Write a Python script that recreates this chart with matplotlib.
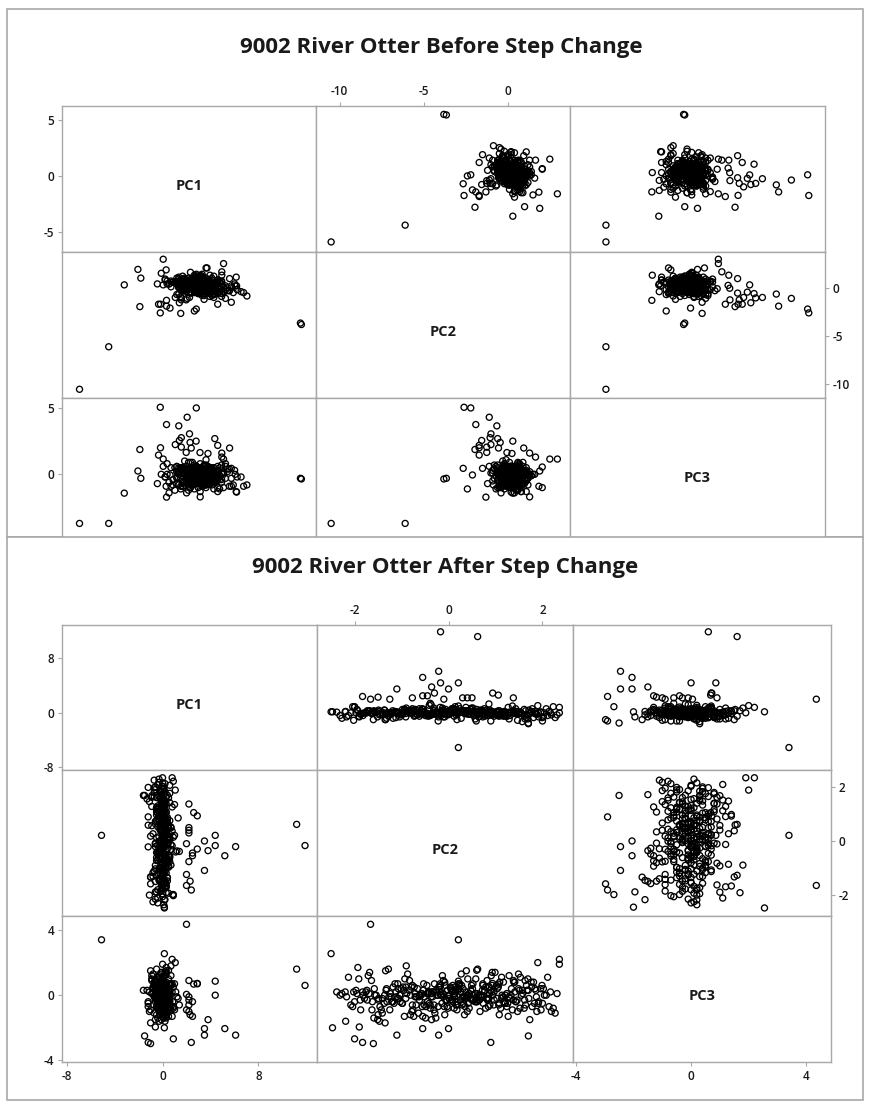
import matplotlib
matplotlib.use("Agg")
import matplotlib.pyplot as plt
from matplotlib.patches import Rectangle

plt.rcParams["font.family"] = ["Open Sans", "DejaVu Sans"]
plt.rcParams["axes.unicode_minus"] = False

# ---------------------------------------------------------------- data
var_names = ["PC1", "PC2", "PC3"]

before_title = "9002 River Otter Before Step Change"
after_title = "9002 River Otter After Step Change"

# scores before the step change: spread-out observations first, then the bulk
before_pc1 = [
    -5.9, -4.4, 5.5, 5.45, 0.1, -1.75, -0.37, -1.43, -0.8, -0.25,
    -0.67, 1.05, -0.77, 0.09, -0.22, -0.98, 1.2, -0.67, -0.16, 1.81,
    -1.74, -2.8, 0.29, 1.41, -0.42, 0.7, -1.84, 1.41, -1.6, 1.5,
    -3.6, -2.9, -2.75, 2.7, 2.15, -0.7, 0.0, 2.07, 2.17, 2.53,
    -1.43, 0.6, -1.45, 1.9, -1.25, 0.65, 0.3,
    0.3, -0.5, 1.1, 0.0, -1.2, 0.8, 0.4, -0.3, 1.6, 0.2,
    -0.8, 0.6, -0.1, 1.3, 0.9, -1.5, 0.1, 0.5, -0.6, 2.0,
    0.7, -0.2, 1.0, -0.9, 0.3, 1.8, -0.4, 0.0, 0.6, -1.1,
    1.4, 0.2, -0.7, 0.9, 0.4, -0.1, 1.2, -1.4, 0.5, 0.8,
    -0.3, 1.7, 0.1, -0.5, 0.7, 1.0, -1.0, 0.3, 2.2, -0.2,
    0.6, -0.8, 1.5, 0.0, 0.4, -1.3, 0.9, 0.2, -0.6, 1.1,
    -0.1, 0.5, 1.9, -0.4, 0.8, -1.7, 0.3, 1.3, -0.2, 0.7,
    0.1, -0.9, 1.6, 0.4, -0.5, 1.0, 0.6, -1.2, 0.2, 2.4,
    -0.3, 0.9, 0.0, 1.4, -0.7, 0.5, 1.2, -1.6, 0.3, 0.8,
    -0.1, 1.7, 0.4, -0.8, 0.6, 1.1, -0.4, 0.2, -1.9, 0.9,
    1.5, 0.0, -0.6, 0.7, 1.3, -1.1, 0.5, 0.1, 2.1, -0.3,
    0.8, -0.5, 1.0, 0.3, -1.4, 0.6, 1.8, -0.2, 0.4, -0.9,
    1.2, 0.1, -0.7, 0.9, 0.5, -1.0, 1.6, 0.2, -0.4, 0.7,
    0.0, 1.4, -1.3, 0.6, 0.3, -0.6, 1.1, 0.8, -0.1, 1.9,
    -0.8, 0.4, 1.0, -0.3, 0.2, 1.5, -1.5, 0.7, 0.5, -0.2,
    0.2, -0.3, 0.7, 0.0, 0.5, -0.6, 0.3, 1.0, -0.1, 0.4,
    -0.4, 0.8, 0.1, -0.2, 0.6, 0.3, -0.8, 0.9, 0.0, 0.5,
    0.2, -0.5, 1.2, 0.4, -0.1, 0.7, -0.3, 0.1, 0.9, -0.7,
    0.6, 0.0, 0.3, -0.4, 1.1, 0.2, -0.2, 0.8, 0.5, -0.9,
    0.1, 0.4, -0.6, 0.7, 0.3, 1.3, -0.1, 0.0, 0.6, -0.3,
    0.9, 0.2, -0.5, 0.4, 0.1, 0.8, -0.2, 1.0, 0.3, -0.8,
    0.5, -0.1, 0.7, 0.0, -0.4, 0.6, 1.2, 0.2, -0.6, 0.4,
    0.1, 0.9, -0.3, 0.5, 0.3, -0.1, 0.8, -0.7, 0.2, 1.1,
    0.0, 0.6, -0.2, 0.4, -0.5, 0.7, 0.1, 1.4, -0.4, 0.3,
    0.5, -0.9, 0.2, 0.8, 0.0, -0.1, 0.6, 0.3, -0.3, 1.0,
    0.4, -0.6, 0.1, 0.7, 0.2, -0.2, 0.9, 0.5, -0.7, 0.0,
    0.3, 1.2, -0.4, 0.6, 0.1, -0.1, 0.8, 0.2, 0.4, -0.5,
    0.7, -0.3, 0.0, 1.0, 0.5, -0.8, 0.3, 0.1, 0.6, -0.2,
    0.9, 0.2, -0.6, 0.4, -0.1, 1.3, 0.0, 0.7, -0.4, 0.3,
    0.5, 0.1, -0.3, 0.8, 0.2, -0.7, 0.6, 0.0, 1.1, -0.2,
    0.4, -0.5, 0.3, 0.7, -0.1, 0.9, 0.1, -0.9, 0.5, 0.2,
    0.0, 0.6, -0.4, 0.3, 1.0, -0.2, 0.8, 0.1, -0.6, 0.4,
    0.7, -0.1, 0.2, -0.3, 0.5, 1.2, 0.0, 0.3, -0.8, 0.6,
    0.1, 0.9, -0.5, 0.4, 0.2, -0.2, 0.7, 0.0, 1.4, -0.4,
    0.3, 0.5, -0.7, 0.8, 0.1, -0.1, 0.6, 0.2, -0.3, 1.0,
]
before_pc2 = [
    -10.5, -6.1, -3.8, -3.65, -2.2, -2.6, -1.1, -1.9, -0.65, -1.0,
    -1.05, -0.6, -1.55, 0.3, -0.45, -1.0, -1.7, -1.25, -0.55, 0.95,
    -1.7, -1.95, -0.05, 1.3, -1.25, 0.25, -1.7, 1.65, 2.95, 2.5,
    0.3, 1.9, 1.0, -0.85, 1.1, -2.65, -2.4, 0.4, 0.2, -0.5,
    -1.3, 2.05, 1.85, -1.5, -2.1, 2.05, 1.3,
    0.2, 0.5, -0.3, 0.8, 0.1, -0.6, 0.4, 1.0, -0.2, 0.3,
    0.7, -0.4, 0.0, 0.6, -0.8, 0.9, 0.2, -0.1, 1.2, -0.5,
    0.4, 0.1, -0.7, 0.5, 0.8, -0.3, 0.0, 1.3, -0.2, 0.6,
    -0.9, 0.3, 0.7, -0.1, 1.1, 0.2, -0.6, 0.4, 0.9, -0.4,
    0.5, 0.0, 1.4, -0.3, 0.2, -1.0, 0.6, 0.8, -0.2, 0.3,
    1.0, 0.1, -0.5, 0.7, -0.8, 0.4, 0.2, 1.2, -0.1, 0.5,
    0.9, -0.6, 0.0, 0.3, -0.3, 1.5, 0.6, -0.4, 0.1, 0.8,
    -0.2, 0.5, -1.1, 0.2, 1.0, -0.7, 0.3, 0.7, 0.0, -0.4,
    0.6, -0.2, 1.1, 0.4, -0.9, 0.1, 0.8, 0.3, -0.5, 1.3,
    0.2, -0.3, 0.5, 0.9, -0.1, 0.0, 0.7, -0.6, 0.4, 1.0,
    -0.4, 0.3, 0.8, -0.2, 0.1, 0.6, -0.8, 1.2, 0.2, 0.5,
    -0.1, 0.9, 0.0, -0.5, 0.7, 0.3, -0.3, 0.4, 1.4, -0.7,
    0.6, 0.1, -0.2, 0.8, -1.2, 0.5, 0.2, 1.0, -0.4, 0.3,
    0.7, -0.6, 0.4, 0.0, 1.1, -0.1, 0.5, -0.9, 0.9, 0.2,
    0.3, 1.2, -0.3, 0.6, -0.5, 0.1, 0.8, -0.2, 0.4, 1.6,
    0.3, 0.0, 0.5, -0.2, 0.7, 0.1, -0.4, 0.4, 0.2, 0.8,
    -0.1, 0.3, 0.6, -0.5, 0.2, 0.9, 0.0, -0.3, 0.5, 0.1,
    0.7, -0.2, 0.4, 0.2, 1.0, -0.4, 0.3, 0.6, -0.1, 0.2,
    0.5, 0.8, -0.3, 0.1, 0.4, -0.6, 0.7, 0.0, 0.3, 0.5,
    -0.2, 0.2, 0.9, 0.4, -0.1, 0.6, 0.1, -0.5, 0.3, 0.8,
    0.0, 0.4, 0.2, -0.3, 0.7, 0.5, -0.1, 0.3, 1.1, 0.1,
    -0.4, 0.6, 0.2, 0.4, -0.2, 0.0, 0.8, 0.3, 0.5, -0.6,
    0.2, 0.1, 0.7, -0.3, 0.4, 0.9, 0.0, 0.6, -0.1, 0.3,
    0.5, -0.2, 0.2, 0.8, 0.1, -0.5, 0.4, 0.7, 0.0, 0.3,
    -0.1, 0.6, 1.0, 0.2, -0.4, 0.5, 0.3, 0.1, 0.7, -0.2,
    0.4, 0.0, 0.6, -0.3, 0.2, 0.8, 0.5, -0.1, 0.3, 0.9,
    0.1, -0.5, 0.4, 0.7, 0.2, 0.0, -0.2, 0.6, 0.3, 0.5,
    0.8, 0.1, -0.4, 0.4, 0.2, 1.1, -0.1, 0.3, 0.6, 0.0,
    -0.3, 0.5, 0.2, 0.7, 0.4, -0.2, 0.9, 0.1, 0.3, -0.6,
    0.6, 0.2, 0.0, 0.5, -0.1, 0.8, 0.3, 0.4, -0.4, 0.7,
    0.1, 0.3, 0.6, -0.2, 0.2, 0.5, 0.0, 1.0, -0.3, 0.4,
    0.7, -0.1, 0.2, 0.9, 0.3, -0.5, 0.5, 0.1, 0.6, 0.0,
    0.4, 0.8, -0.2, 0.3, 0.2, 0.6, -0.4, 0.5, 0.1, 0.7,
    -0.1, 0.4, 0.3, 0.0, 0.8, 0.2, 0.5, -0.3, 0.6, 0.1,
    0.9, -0.2, 0.4, 0.2, 0.0, 0.7, 0.3, -0.1, 0.5, 1.2,
]
before_pc3 = [
    -3.7, -3.7, -0.35, -0.3, 5.0, 5.05, 4.3, 3.75, 3.65, 3.05,
    2.76, 2.69, 2.55, 2.5, 2.4, 2.24, 2.18, 2.05, 1.98, 1.98,
    2.0, 1.87, 1.64, 1.6, 1.65, 1.57, 1.45, 1.3, 1.15, 1.15,
    -1.42, 0.25, -0.3, -0.8, -1.3, 0.45, -1.1, 0.3, -1.34, -0.9,
    -1.72, -1.0, -0.9, 0.45, -0.05, 0.55, -1.7,
    -0.2, 0.3, -0.6, 0.1, -0.9, 0.5, -0.1, -0.4, 0.8, -0.3,
    0.2, -0.7, 0.0, -1.1, 0.4, -0.2, 0.6, -0.5, 0.1, -0.8,
    -0.3, 0.9, -0.1, 0.2, -1.3, 0.4, -0.6, 0.0, 0.7, -0.4,
    0.1, -0.2, -0.9, 0.5, -0.5, 0.3, -1.0, 0.0, 0.6, -0.3,
    -0.7, 0.2, -0.1, 1.0, -0.4, 0.1, -1.2, 0.4, -0.2, -0.6,
    0.3, -0.8, 0.0, 0.7, -0.3, -1.4, 0.2, -0.1, 0.5, -0.5,
    -0.2, 0.1, -0.9, 0.4, -0.6, 0.0, 0.8, -0.4, -1.0, 0.3,
    -0.1, -0.7, 0.6, -0.3, 0.2, -1.1, 0.0, 0.5, -0.5, -0.2,
    0.9, -0.8, 0.1, -0.4, 0.3, -0.1, -1.3, 0.6, -0.6, 0.2,
    -0.3, 0.4, -0.9, 0.0, 1.1, -0.5, -0.2, 0.3, -0.7, 0.1,
    -1.0, 0.5, -0.4, 0.2, -0.1, -0.8, 0.7, -0.3, 0.0, -1.2,
    0.4, -0.6, 0.1, -0.2, 0.8, -0.5, -0.9, 0.3, -0.1, 0.6,
    -0.4, 0.0, -1.1, 0.2, -0.7, 0.5, -0.3, 0.1, -1.4, 0.4,
    -0.2, 0.7, -0.6, -0.1, 0.3, -0.9, 0.0, -0.5, 0.9, -0.3,
    0.2, -0.8, 0.5, -0.4, -1.0, 0.1, -0.2, 0.6, -0.7, 0.0,
    -0.1, 0.2, -0.4, 0.0, -0.6, 0.3, -0.2, 0.1, -0.8, -0.3,
    0.4, -0.1, -0.5, 0.2, 0.0, -0.7, 0.1, -0.3, 0.5, -0.2,
    -0.4, 0.0, 0.3, -0.6, -0.1, 0.2, -0.9, 0.1, -0.3, 0.4,
    -0.2, -0.5, 0.0, 0.6, -0.1, -0.4, 0.2, -0.7, 0.1, -0.2,
    0.3, -0.6, -0.1, 0.0, -0.3, 0.5, -0.8, 0.2, -0.2, 0.1,
    -0.5, 0.0, 0.4, -0.3, -0.1, 0.2, -0.6, 0.1, -0.4, 0.3,
    0.0, -0.2, -0.7, 0.5, -0.1, 0.2, -0.3, 0.0, -0.9, 0.1,
    -0.4, 0.3, -0.2, 0.6, -0.5, 0.0, 0.1, -0.3, 0.2, -0.6,
    -0.1, 0.4, -0.2, -0.8, 0.0, 0.3, -0.4, 0.1, -0.1, 0.5,
    -0.3, 0.2, -0.7, 0.0, -0.2, 0.4, -0.5, 0.1, -0.1, -0.4,
    0.2, -0.6, 0.3, -0.2, 0.0, -1.0, 0.1, -0.3, 0.4, -0.1,
    -0.5, 0.2, 0.0, -0.4, 0.6, -0.2, -0.7, 0.1, -0.3, 0.3,
    0.0, -0.1, -0.6, 0.2, -0.4, 0.5, -0.2, 0.1, -0.8, 0.0,
    0.3, -0.3, 0.1, -0.5, 0.4, -0.1, -0.2, 0.2, -0.7, 0.0,
    -0.4, 0.6, -0.1, 0.1, -0.3, 0.3, -0.6, 0.0, 0.2, -0.2,
    -0.9, 0.4, -0.1, 0.1, -0.5, 0.0, 0.3, -0.3, -0.2, 0.5,
    0.1, -0.4, 0.2, -0.7, 0.0, -0.1, 0.4, -0.5, 0.1, -0.2,
    0.3, -0.3, 0.0, -0.6, 0.2, 0.6, -0.1, -0.4, 0.1, -0.8,
    -0.2, 0.0, 0.3, -0.5, -0.1, 0.2, -0.3, 0.4, -0.6, 0.1,
    0.0, -0.2, 0.5, -0.4, 0.1, -0.7, 0.2, -0.1, 0.3, -0.3,
]

# scores after the step change
after_pc1 = [
    11.9, 11.2, -5.1, 6.1, 5.2, 4.4, 4.4, 3.8, 3.5, 3.5,
    2.9, 2.9, 2.6, 2.4, 2.0, 2.3, 2.0, 2.2, 2.5, 2.5,
    2.0, 2.2, 2.2, 2.2, 2.2, 0.15, 0.9, -1.0, -1.2, -1.5,
    -0.6, -1.0, 0.15, 0.8, 1.06, 0.0, 0.7, 0.5, -1.2, -1.6,
    0.15, 0.85,
    -0.1, 0.3, -0.5, 0.0, 0.6, -0.8, 0.2, -0.3, 0.9, -0.2,
    0.1, -0.6, 0.4, -0.1, -1.0, 0.5, 0.0, -0.4, 0.7, -0.2,
    0.2, -0.7, 0.1, 0.3, -0.5, 1.1, -0.3, 0.0, -0.9, 0.4,
    -0.1, 0.6, -0.4, 0.2, -0.2, 0.8, -0.6, 0.1, -1.2, 0.3,
    0.0, -0.3, 0.5, -0.1, 0.2, -0.8, 0.4, -0.5, 1.0, 0.0,
    -0.2, 0.3, -0.7, 0.1, 0.6, -0.4, -0.1, 0.2, -0.9, 0.5,
    0.1, -0.3, 0.7, -0.6, 0.0, 0.3, -0.2, 1.2, -0.5, 0.2,
    -0.1, 0.4, -1.1, 0.0, 0.6, -0.3, 0.1, -0.7, 0.3, -0.2,
    0.8, -0.4, 0.0, 0.2, -0.6, 0.5, -0.1, -0.9, 0.3, 0.1,
    -0.5, 0.7, -0.2, 0.0, 0.4, -1.3, 0.2, -0.3, 0.9, -0.1,
    0.1, -0.6, 0.3, 0.5, -0.4, 0.0, -0.8, 0.6, -0.2, 0.2,
    1.3, -0.5, 0.1, -0.1, 0.4, -0.7, 0.0, 0.3, -1.0, 0.2,
    -0.3, 0.6, -0.1, 0.8, -0.4, 0.1, -0.6, 0.0, 0.5, -0.2,
    0.2, -0.9, 0.4, -0.3, 0.1, 1.0, -0.5, 0.0, -0.1, 0.7,
    -0.7, 0.3, -0.2, 0.5, 0.0, -1.1, 0.2, -0.4, 0.6, 0.1,
    -0.3, 0.9, 0.0, -0.6, 0.3, -0.1, 0.4, -0.8, 0.2, 1.4,
    -0.2, 0.1, -0.5, 0.6, 0.0, -0.3, 0.3, -1.2, 0.1, 0.5,
    -0.1, 0.2, -0.3, 0.0, 0.4, -0.2, 0.1, -0.5, 0.3, -0.1,
    0.0, 0.2, -0.4, 0.1, -0.2, 0.5, -0.1, 0.0, -0.6, 0.3,
    0.1, -0.3, 0.2, -0.1, 0.0, 0.4, -0.2, 0.1, -0.4, 0.2,
    -0.1, 0.0, 0.3, -0.5, 0.1, -0.2, 0.6, 0.0, -0.1, 0.2,
    -0.3, 0.1, 0.0, 0.4, -0.2, -0.1, 0.3, -0.4, 0.1, 0.0,
    0.2, -0.6, 0.1, -0.1, 0.5, 0.0, -0.3, 0.2, -0.2, 0.1,
    0.0, 0.3, -0.1, -0.4, 0.2, 0.0, -0.2, 0.4, 0.1, -0.5,
    -0.1, 0.2, 0.0, 0.3, -0.3, 0.1, -0.1, 0.6, -0.2, 0.0,
    0.1, -0.4, 0.2, -0.1, 0.0, 0.3, -0.2, 0.1, -0.5, 0.2,
    0.0, -0.1, 0.4, -0.3, 0.1, 0.0, -0.2, 0.2, 0.5, -0.1,
    -0.3, 0.1, 0.0, -0.6, 0.3, -0.1, 0.2, 0.0, -0.2, 0.4,
    0.1, -0.4, 0.0, 0.2, -0.1, 0.3, -0.3, 0.1, 0.0, -0.2,
    0.5, -0.1, 0.2, -0.5, 0.0, 0.1, -0.2, 0.3, -0.1, 0.0,
    -0.4, 0.2, 0.1, -0.1, 0.4, -0.3, 0.0, 0.2, -0.6, 0.1,
    0.0, -0.2, 0.3, 0.1, -0.4, 0.0, 0.2, -0.1, 0.6, -0.3,
]
after_pc2 = [
    -0.17, 0.62, 0.21, -0.21, -0.55, -0.17, 0.21, -0.36, -1.1, 0.0,
    -0.3, 0.94, 1.06, -1.83, -1.66, -1.5, -1.25, -0.77, -0.55, -0.45,
    -0.1, 0.3, 0.4, 0.5, 1.38, -2.47, -2.0, -1.6, 0.9, 1.7,
    -1.9, -1.35, -2.5, 2.36, 1.9, 2.36, -0.9, 0.6, 2.0, 1.7,
    -2.2, -2.0,
    -1.83, 0.42, 1.17, -0.64, 2.08, -1.32, 0.03, 0.91, -2.04, 1.58,
    -0.27, 0.73, -1.49, 1.86, 0.18, -0.93, 1.44, -2.31, 0.52, -0.08,
    1.77, -1.12, 0.29, -1.68, 0.97, -0.41, 2.19, -0.83, 0.57, -1.37,
    1.51, 0.12, -2.13, 0.84, -0.46, 1.27, -1.04, 1.96, -0.22, 0.38,
    -1.62, 1.09, -0.71, 1.73, -0.02, -1.18, 0.88, -1.91, 1.36, -0.33,
    0.63, -0.87, 2.27, -1.54, 0.24, 1.21, -0.58, -2.19, 1.63, 0.47,
    -1.07, 0.79, -0.13, 1.92, -1.76, 0.34, 1.02, -0.37, -1.28, 2.14,
    0.68, -0.79, 1.47, -1.97, 0.07, 1.13, -0.52, 1.81, -1.59, 0.44,
    -0.18, 1.31, -1.43, 0.93, 2.02, -0.98, 0.01, 1.69, -0.74, -2.38,
    1.24, 0.49, -1.22, 0.82, -0.29, 1.57, -1.71, 0.16, 2.23, -0.91,
    0.61, -1.51, 1.39, -0.06, 1.04, -2.08, 0.27, -0.62, 1.88, -1.14,
    0.86, -0.43, 1.53, -1.87, 0.09, 1.99, -0.81, 0.72, -1.34, 1.19,
    -0.24, 1.78, -1.64, 0.37, -0.49, 1.06, -2.17, 0.58, 1.61, -1.01,
    -0.04, 1.29, -0.69, 2.31, -1.41, 0.21, 0.77, -1.79, 0.99, -0.31,
    1.66, -1.19, 0.53, -0.94, 1.41, -2.02, 0.32, 2.11, -0.56, 0.89,
    -1.47, 0.14, 1.16, -0.11, -1.73, 1.49, 0.67, -2.27, 1.84, -0.39,
    0.41, -1.09, 1.08, -0.77, 2.17, -0.01, -1.93, 0.59, 1.33, -0.53,
    0.37, -0.84, 1.26, -0.12, 0.71, -1.46, 0.05, 1.62, -0.58, 0.93,
    -1.21, 0.26, -0.39, 1.14, -0.97, 0.48, 1.83, -0.27, 0.64, -1.69,
    0.19, -0.66, 1.38, 0.02, -1.08, 0.81, -0.45, 1.97, -0.16, 0.56,
    -1.33, 0.33, 1.07, -0.73, 0.11, -1.88, 0.76, -0.09, 1.49, -0.52,
    0.94, -1.16, 0.23, 1.71, -0.36, 0.44, -0.95, 1.18, -1.57, 0.08,
    0.66, -0.21, 1.29, -0.78, 0.15, 2.04, -1.03, 0.51, -0.31, 0.87,
    -1.74, 0.29, 1.55, -0.48, 0.04, -1.27, 0.97, -0.14, 1.76, -0.62,
    0.38, -0.89, 1.11, 0.21, -1.41, 0.69, -0.07, 1.43, -0.57, 0.16,
    -1.12, 0.83, 0.31, -0.34, 1.91, -0.81, 0.47, -1.63, 0.12, 1.03,
    -0.19, 0.59, -1.36, 0.92, -0.03, 1.34, -0.68, 0.25, -1.95, 0.73,
    -0.41, 1.21, 0.06, -0.91, 1.64, -0.26, 0.42, -1.19, 0.87, -0.11,
    1.52, -0.71, 0.17, -1.49, 0.64, 1.08, -0.37, 0.28, -1.06, 1.87,
    -0.54, 0.35, -0.15, 1.24, -1.31, 0.79, 0.01, -0.76, 1.41, -0.23,
    0.53, -1.58, 0.96, -0.44, 0.13, 1.67, -0.99, 0.39, -0.08, 1.13,
    -1.24, 0.61, -0.32, 0.85, -1.82, 0.22, 1.46, -0.63, 0.09, 0.74,
]
after_pc3 = [
    0.6, 1.6, 3.4, -2.45, -2.05, 0.0, 0.86, -1.5, -2.45, -2.05,
    0.7, 0.72, 0.68, -2.9, 4.35, -1.2, -0.9, -0.6, -1.3, -0.4,
    0.05, -0.1, -1.0, -0.3, 0.9, -2.0, -2.68, -2.97, -2.9, -2.5,
    -1.95, -1.7, 2.55, 2.2, 2.0, 1.9, 1.8, 1.53, -0.5, 0.3,
    0.2, -0.4,
    0.2, -0.5, 0.8, -1.1, 0.0, 0.4, -0.3, 1.2, -0.7, 0.1,
    -1.4, 0.6, -0.2, 0.3, -0.9, 1.0, -0.4, 0.0, 0.7, -1.2,
    0.5, -0.1, -0.6, 1.4, -0.3, 0.2, -1.0, 0.9, 0.1, -0.5,
    0.3, -0.8, 1.1, -0.2, 0.6, -1.3, 0.0, 0.4, -0.7, 1.5,
    -0.4, 0.8, -0.1, -1.5, 0.3, 0.5, -0.6, 1.0, -0.9, 0.2,
    -0.3, 1.3, -1.1, 0.0, 0.7, -0.5, 0.1, -1.6, 0.9, -0.2,
    0.4, -0.8, 1.2, -0.4, 0.2, -1.2, 0.6, -0.1, 1.6, -0.7,
    0.0, 0.5, -1.0, 0.3, -0.3, 1.1, -0.6, 0.8, -1.4, 0.1,
    0.7, -0.2, -0.9, 1.4, 0.4, -0.5, 0.0, 1.0, -1.3, 0.2,
    -0.7, 0.6, -0.1, 0.9, -1.1, 0.3, 1.2, -0.4, -0.8, 0.5,
    0.1, -1.5, 0.8, -0.3, 0.4, -0.6, 1.3, 0.0, -1.0, 0.7,
    -0.2, 0.2, 1.1, -0.9, -0.4, 0.6, -1.2, 0.3, 1.5, -0.5,
    0.0, -0.7, 0.9, 0.2, -1.4, 0.5, -0.1, 1.0, -0.8, 0.4,
    -0.3, 1.2, -0.6, 0.1, -1.1, 0.7, 0.3, -0.2, 1.4, -0.9,
    0.6, -0.4, 0.0, -1.3, 0.8, 0.2, -0.5, 1.1, -0.7, 0.3,
    -1.6, 0.5, -0.1, 0.9, -0.3, 1.3, -1.0, 0.1, 0.4, -0.6,
    1.0, -0.2, -1.2, 0.6, 0.2, -0.8, 1.7, -0.4, 0.0, 0.7,
    -0.2, 0.3, -0.5, 0.1, -0.1, -0.7, 0.4, -0.3, 0.0, 0.6,
    -0.4, 0.2, -0.8, 0.0, 0.5, -0.2, -0.5, 0.3, -0.1, 0.1,
    -0.6, 0.4, -0.3, 0.0, 0.7, -0.2, 0.1, -0.9, 0.2, -0.4,
    0.3, -0.1, -0.6, 0.5, 0.0, -0.3, 0.2, -0.7, 0.4, -0.1,
    0.0, -0.5, 0.6, -0.2, 0.1, -0.8, 0.3, -0.4, 0.0, 0.2,
    -0.3, 0.5, -0.1, -1.0, 0.2, 0.0, -0.4, 0.4, -0.6, 0.1,
    0.3, -0.2, 0.0, -0.7, 0.5, -0.1, 0.2, -0.5, 0.8, -0.3,
    -0.1, 0.1, -0.8, 0.3, -0.2, 0.0, 0.6, -0.4, 0.1, -0.6,
    0.2, -0.3, 0.4, -0.1, -0.5, 0.0, 0.3, -0.9, 0.1, -0.2,
    0.5, -0.4, 0.0, 0.2, -0.7, 0.4, -0.1, -0.3, 0.1, 0.7,
    -0.5, 0.0, 0.3, -0.2, -0.6, 0.2, 0.0, -0.4, 0.5, -0.1,
    -0.8, 0.1, 0.4, -0.3, 0.0, -0.5, 0.2, 0.6, -0.2, -0.1,
    0.3, -0.7, 0.0, 0.1, -0.4, 0.5, -0.2, -0.9, 0.2, 0.0,
    -0.3, 0.4, -0.6, 0.1, -0.1, 0.3, -0.5, 0.0, 0.8, -0.2,
    0.1, -0.4, 0.2, -0.7, 0.0, 0.4, -0.3, -0.1, 0.6, -0.5,
]

# axis ranges and tick values for each variable
before_limits = [(-6.8, 6.25), (-11.4, 3.7), (-5.25, 5.75)]
before_ticks = [[-5, 0, 5], [-10, -5, 0], [-5, 0, 5]]
after_limits = [(-8.4, 12.9), (-2.8, 2.65), (-4.1, 4.86)]
after_ticks = [[-8, 0, 8], [-2, 0, 2], [-4, 0, 4]]

# ---------------------------------------------------------------- layout
W, H, DPI = 875, 1107, 100
EDGE = "#a8a8a8"
TEXT = "#1a1a1a"

fig = plt.figure(figsize=(W / DPI, H / DPI), dpi=DPI)
fig.patch.set_facecolor("white")


def fbox(x0, y0, x1, y1):
    """Pixel box (top-left origin) -> figure fraction rect."""
    return [x0 / W, 1 - y1 / H, (x1 - x0) / W, (y1 - y0) / H]


def style_ticks(ax, axis, side, ticks):
    kw = dict(fontsize=8.5, fontweight="semibold", color=TEXT)
    common = dict(direction="out", length=3.2, width=0.8, color=EDGE, pad=2.5)
    if axis == "x":
        ax.set_xticks(ticks, labels=[str(t) for t in ticks], **kw)
        ax.tick_params(axis="x", **common,
                       top=side == "top", labeltop=side == "top",
                       bottom=side == "bottom", labelbottom=side == "bottom")
    else:
        ax.set_yticks(ticks, labels=[str(t) for t in ticks], **kw)
        ax.tick_params(axis="y", **common,
                       left=side == "left", labelleft=side == "left",
                       right=side == "right", labelright=side == "right")


def draw_matrix(cols, limits, ticks, xs, ys, z, bottom_ticks=True):
    axes = {}
    for r in range(3):
        for c in range(3):
            ax = fig.add_axes(fbox(xs[c], ys[r], xs[c + 1], ys[r + 1]))
            ax.set_zorder(z)
            ax.set_facecolor("white")
            ax.set_xlim(limits[c])
            ax.set_ylim(limits[r])
            ax.set_xticks([])
            ax.set_yticks([])
            for s in ax.spines.values():
                s.set_color(EDGE)
                s.set_linewidth(1.0)
            if r == c:
                ax.text(0.5, 0.45, var_names[r], transform=ax.transAxes,
                        ha="center", va="center", fontsize=10.5,
                        fontweight="bold", color=TEXT)
            else:
                ax.scatter(cols[c], cols[r], s=19, facecolors="none",
                           edgecolors="black", linewidths=0.95)
            axes[(r, c)] = ax
    # Minitab-style alternating tick sides
    style_ticks(axes[(0, 0)], "y", "left", ticks[0])
    style_ticks(axes[(1, 2)], "y", "right", ticks[1])
    style_ticks(axes[(2, 0)], "y", "left", ticks[2])
    style_ticks(axes[(0, 1)], "x", "top", ticks[1])
    if bottom_ticks:
        style_ticks(axes[(2, 0)], "x", "bottom", ticks[0])
        style_ticks(axes[(2, 2)], "x", "bottom", ticks[2])
    return axes


# ---- upper chart (its foot is covered by the lower chart)
fig.add_artist(Rectangle((7 / W, 1 - 537 / H), 856 / W, 528 / H,
                         transform=fig.transFigure, facecolor="white",
                         edgecolor=EDGE, linewidth=1.2, zorder=0.5))
fig.text(441 / W, 1 - 47 / H, before_title, ha="center", va="center",
         fontsize=16, fontweight="bold", color=TEXT, zorder=1)
draw_matrix([before_pc1, before_pc2, before_pc3], before_limits, before_ticks,
            [62, 316, 570, 825], [106, 252, 398, 544], z=1,
            bottom_ticks=False)

# ---- lower chart
fig.add_artist(Rectangle((7 / W, 1 - 1100 / H), 856 / W, 563 / H,
                         transform=fig.transFigure, facecolor="white",
                         edgecolor=EDGE, linewidth=1.2, zorder=2))
fig.text(445 / W, 1 - 567 / H, after_title, ha="center", va="center",
         fontsize=16, fontweight="bold", color=TEXT, zorder=3)
draw_matrix([after_pc1, after_pc2, after_pc3], after_limits, after_ticks,
            [62, 317, 573, 831], [625, 770, 916, 1062], z=3)

fig.savefig("out.png", dpi=DPI)
